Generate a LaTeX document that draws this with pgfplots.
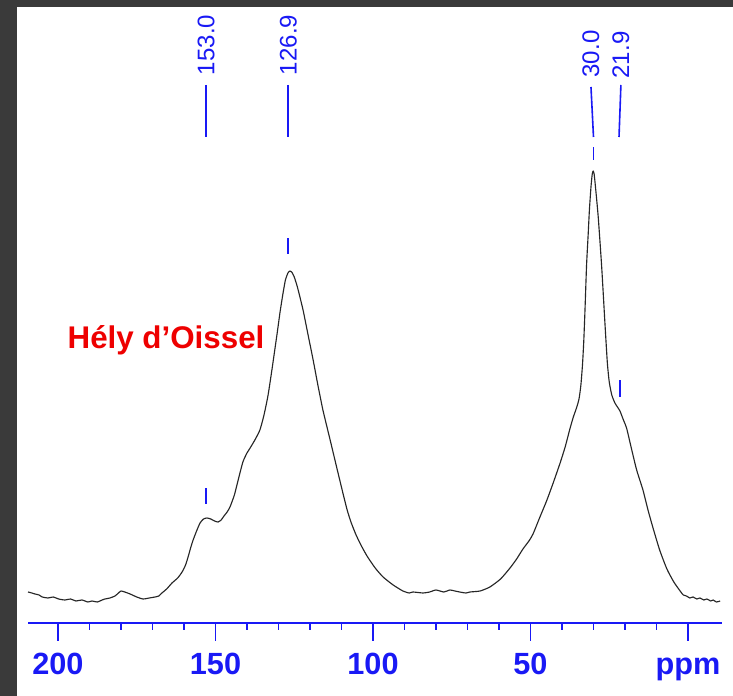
\documentclass[border=0pt]{standalone}
\usepackage{pgfplots}
\pgfplotsset{compat=1.18}
\usepackage{fontspec}
\setmainfont{Liberation Sans}
\definecolor{bordergray}{RGB}{58,58,58}
\definecolor{nmrblue}{RGB}{25,25,245}
\definecolor{titlered}{RGB}{238,0,0}
\pgfplotstableread{
ppm I
209.5 8
208.3 7
207.3 6
206.0 5
205.0 3
203.2 2
201.5 3
199.8 1
197.8 0
196.0 1
194.3 -1
192.4 0
190.5 -2
189.2 -1
187.5 -2
186.0 0
185.1 1
183.5 2
181.9 4
180.8 7
180.0 9
178.8 8
177.1 6
175.0 3
173.0 1
171.0 2
169.2 3
168.0 4
167.0 7
165.5 11
163.8 17
162.0 22
160.6 28
159.5 35
158.7 43
157.9 52
157.1 60
156.0 69
154.9 77
153.8 81
152.7 82
151.5 81
150.3 79
149.2 78
148.2 80
147.3 84
146.3 88
145.4 93
144.0 105
142.8 120
141.3 138
140.0 147
139.0 152
137.5 160
135.9 170
134.6 185
133.3 205
132.0 232
130.5 265
129.5 288
128.6 306
127.8 320
127.0 327
126.4 329
125.8 328
125.0 323
124.0 313
122.2 290
120.6 265
119.0 240
117.5 215
115.9 190
113.6 160
111.4 131
109.4 105
108.2 90
107.0 78
105.5 66
104.0 56
101.9 44
99.3 32
96.8 23
93.6 15
90.5 9
88.5 7
87.3 8
84.1 7
82.0 8
80.0 10
77.5 8
75.6 10
74.0 9
72.5 8
70.5 7
69.2 8
66.0 9
62.9 13
59.5 21
56.5 32
54.4 41
52.4 51
50.5 59
49.2 66
47.0 83
44.9 99
42.8 117
40.6 137
39.0 153
37.5 171
36.4 183
35.4 192
34.6 201
34.0 215
33.5 235
33.1 258
32.7 290
32.2 335
31.7 365
31.3 390
30.8 413
30.4 426
30.1 429
29.8 426
29.4 414
28.5 383
27.4 333
26.3 273
25.6 237
25.0 218
24.2 205
23.2 197
22.4 193
21.6 189
20.5 180
19.5 172
18.0 152
16.3 130
14.3 110
12.7 90
11.1 72
9.0 50
6.7 31
4.5 18
2.5 9
1.5 5
0.5 4
-0.6 2
-1.6 3
-2.8 1
-3.8 2
-5.0 0
-6.0 1
-7.2 -1
-8.0 0
-9.0 -2
-10.2 -1
}\spectrum
\begin{document}
\begin{tikzpicture}[x=1pt,y=1pt]
\useasboundingbox (0,0) rectangle (549.75,522);
\fill[white] (0,0) rectangle (549.75,522);
\fill[bordergray] (0,0) rectangle (12.75,522);
\fill[bordergray] (0,516.75) rectangle (549.75,522);
\begin{axis}[
  at={(21pt,54.75pt)}, anchor=south west,
  scale only axis, width=520.5pt, height=461.25pt,
  x dir=reverse, xmin=-10.79, xmax=209.52, ymin=-23, ymax=592,
  axis x line*=bottom, axis y line=none,
  x axis line style={nmrblue, line width=1.5pt, -},
  xtick={0,50,100,150,200}, xticklabels={ppm,50,100,150,200},
  minor x tick num=4,
  tick align=outside,
  major tick length=13.5pt, minor tick length=5.25pt,
  every tick/.style={nmrblue, line width=1.2pt},
  xticklabel style={font=\fontsize{23}{23}\selectfont\bfseries, text=nmrblue, anchor=base, yshift=-25.5pt},
  clip=false,
]
\addplot[black!85, line width=0.85pt, line join=round, smooth, tension=0.35] table[x=ppm, y=I] {\spectrum};
% peak annotations
\begin{scope}[nmrblue, line width=1.2pt]
\draw (axis cs:153.0,515) -- (axis cs:153.0,463);
\draw (axis cs:126.9,515) -- (axis cs:126.9,463);
\draw (axis cs:30.8,513) -- (axis cs:30.0,463);
\draw (axis cs:21.3,515) -- (axis cs:21.9,463);
\draw (axis cs:153.0,96) -- (axis cs:153.0,112);
\draw (axis cs:126.9,346) -- (axis cs:126.9,362);
\draw (axis cs:30.0,440) -- (axis cs:30.0,453);
\draw (axis cs:21.6,203) -- (axis cs:21.6,220);
\end{scope}
\begin{scope}[every node/.style={rotate=90, text=nmrblue, font=\fontsize{18}{18}\selectfont, inner sep=0pt}]
\node at (axis cs:153.0,555) {153.0};
\node at (axis cs:126.9,555) {126.9};
\node at (axis cs:30.8,546) {30.0};
\node at (axis cs:21.3,545) {21.9};
\end{scope}
\node[text=titlered, font=\fontsize{23.5}{23.5}\selectfont\bfseries] at (axis cs:165.7,260) {Hély d’Oissel};
\end{axis}
\end{tikzpicture}
\end{document}
